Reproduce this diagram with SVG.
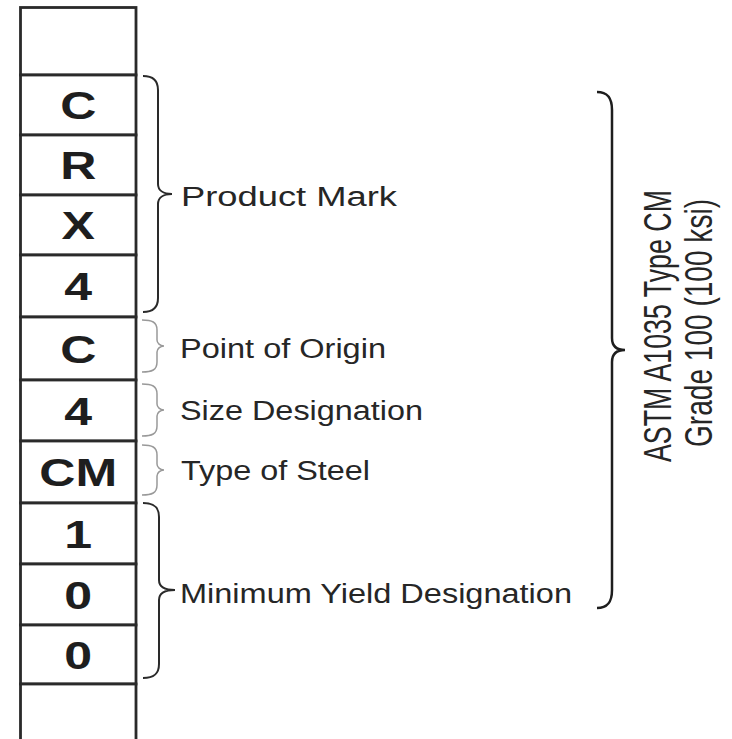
<svg xmlns="http://www.w3.org/2000/svg" width="732" height="739" viewBox="0 0 732 739">
<style>
.cell{fill:#fff;stroke:#2a2a2a;stroke-width:2.8}
.ch{font-family:"Liberation Sans",Arial,sans-serif;font-weight:bold;font-size:38.5px;fill:#1e1e1e;text-anchor:middle}
.lbl{font-family:"Liberation Sans",Arial,sans-serif;font-size:27px;fill:#262626}
.rot{font-family:"Liberation Sans",Arial,sans-serif;font-size:26px;fill:#262626;text-anchor:middle}
.br{fill:none;stroke:#2a2a2a;stroke-width:2}
.brs{fill:none;stroke:#999;stroke-width:1.5}
.brb{fill:none;stroke:#1e1e1e;stroke-width:2.5}
</style>
<rect width="732" height="739" fill="#fff"/>
<g id="column">
<g id="cell0"><rect class="cell" x="20.5" y="7.5" width="115.5" height="67.5"/></g>
<g id="cell1"><rect class="cell" x="20.5" y="75" width="115.5" height="60"/><text class="ch" transform="translate(78.25,119) scale(1.3,1)">C</text></g>
<g id="cell2"><rect class="cell" x="20.5" y="135" width="115.5" height="60"/><text class="ch" transform="translate(78.25,179) scale(1.3,1)">R</text></g>
<g id="cell3"><rect class="cell" x="20.5" y="195" width="115.5" height="60"/><text class="ch" transform="translate(78.25,239) scale(1.3,1)">X</text></g>
<g id="cell4"><rect class="cell" x="20.5" y="255" width="115.5" height="62"/><text class="ch" transform="translate(78.25,300) scale(1.3,1)">4</text></g>
<g id="cell5"><rect class="cell" x="20.5" y="317" width="115.5" height="63"/><text class="ch" transform="translate(78.25,362.5) scale(1.3,1)">C</text></g>
<g id="cell6"><rect class="cell" x="20.5" y="380" width="115.5" height="61"/><text class="ch" transform="translate(78.25,424.5) scale(1.3,1)">4</text></g>
<g id="cell7"><rect class="cell" x="20.5" y="441" width="115.5" height="62"/><text class="ch" transform="translate(78.25,486) scale(1.3,1)">CM</text></g>
<g id="cell8"><rect class="cell" x="20.5" y="503" width="115.5" height="61"/><text class="ch" transform="translate(78.25,547.5) scale(1.3,1)">1</text></g>
<g id="cell9"><rect class="cell" x="20.5" y="564" width="115.5" height="61"/><text class="ch" transform="translate(78.25,608.5) scale(1.3,1)">0</text></g>
<g id="cell10"><rect class="cell" x="20.5" y="625" width="115.5" height="59"/><text class="ch" transform="translate(78.25,668.5) scale(1.3,1)">0</text></g>
<g id="cell11"><rect class="cell" x="20.5" y="684" width="115.5" height="70"/></g>
</g>
<g id="braces">
<path class="br" d="M143,76 C153,76 158,80 158,90 L158,184 C158,190 163,194 172,194 C163,194 158,198 158,204 L158,298 C158,308 153,312 143,312"/>
<path class="brs" d="M142,320 C152,320 157,322 157,330 L157,340 C157,343 160,346 164,346 C160,346 157,349 157,352 L157,362 C157,370 152,372 142,372"/>
<path class="brs" d="M142,384 C152,384 157,386 157,394 L157,404 C157,407 160,410 164,410 C160,410 157,413 157,416 L157,426 C157,434 152,436 142,436"/>
<path class="brs" d="M142,445 C152,445 157,447 157,455 L157,464 C157,467 160,470 164,470 C160,470 157,473 157,476 L157,485 C157,493 152,495 142,495"/>
<path class="br" d="M143,503 C154,503 159,507 159,517 L159,580 C159,586 164,590 175,590 C164,590 159,594 159,600 L159,664 C159,674 154,678 143,678"/>
<path class="brb" d="M597,92 C607,92 612,97 612,110 L612,338 C612,346 617,350 625,350 C617,350 612,354 612,362 L612,590 C612,603 607,608 597,608"/>
</g>
<g id="labels">
<text class="lbl" x="181" y="206" textLength="216" lengthAdjust="spacingAndGlyphs">Product Mark</text>
<text class="lbl" x="180" y="357.5" textLength="206" lengthAdjust="spacingAndGlyphs">Point of Origin</text>
<text class="lbl" x="180" y="419.5" textLength="243" lengthAdjust="spacingAndGlyphs">Size Designation</text>
<text class="lbl" x="181" y="480" textLength="189" lengthAdjust="spacingAndGlyphs">Type of Steel</text>
<text class="lbl" x="180" y="602.5" textLength="392" lengthAdjust="spacingAndGlyphs">Minimum Yield Designation</text>
<text class="rot" transform="translate(671,326) scale(1.5,1) rotate(-90)" textLength="272" lengthAdjust="spacingAndGlyphs">ASTM A1035 Type CM</text>
<text class="rot" transform="translate(712,323) scale(1.5,1) rotate(-90)" textLength="248" lengthAdjust="spacingAndGlyphs">Grade 100 (100 ksi)</text>
</g>
</svg>
